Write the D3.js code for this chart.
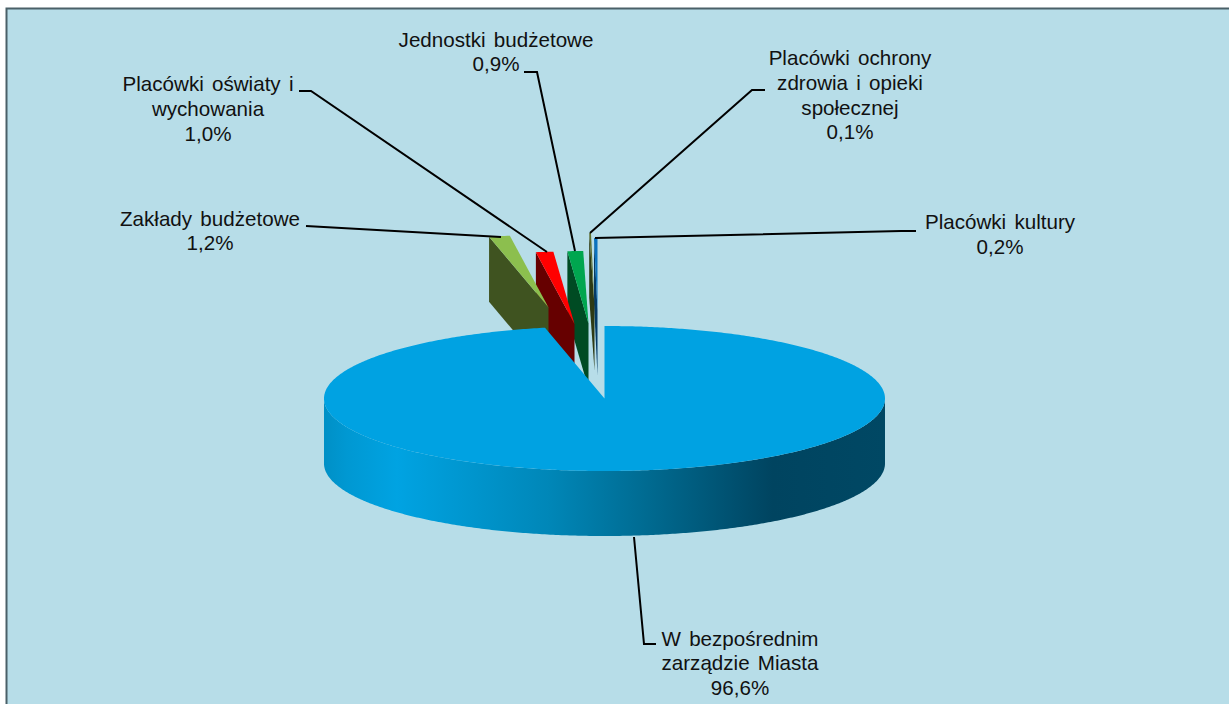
<!DOCTYPE html>
<html><head><meta charset="utf-8">
<script src="https://cdn.jsdelivr.net/npm/d3@7/dist/d3.min.js"></script>
<style>html,body{margin:0;padding:0;background:#fff}svg{display:block}text{font-family:"Liberation Sans",Arial,sans-serif;font-size:20.6px;word-spacing:2.5px;fill:#111}</style>
</head><body><svg id="c" width="1229" height="704"></svg>
<script>
const categories=["W bezpośrednim zarządzie Miasta","Zakłady budżetowe","Placówki oświaty i wychowania","Jednostki budżetowe","Placówki ochrony zdrowia i opieki społecznej","Placówki kultury"];
const values=[96.6,1.2,1.0,0.9,0.1,0.2];
const labelLines=[["W bezpośrednim","zarządzie Miasta"],["Zakłady budżetowe"],["Placówki oświaty i","wychowania"],["Jednostki budżetowe"],["Placówki ochrony","zdrowia i opieki","społecznej"],["Placówki kultury"]];
const topColors=["#00A2E2","#8CBF4E","#FF0000","#00A64F","#5F6E2C","#0B72BE"];
const faceColors=["#00A2E2","#3F5320","#660000","#004B23","#2E3A14","#053A66"];
// layout constants
const W=1229,H=704,cx=604.5,cy=398.5,rx=280.5,ry=72.5,depth=65;
const explode=[[0,0],[-56,-91],[-30,-74.5],[-16,-75],[-10,-93],[-7,-88]];
const labelAnchors=[[740,645.5],[210,225.5],[208,91],[496,46.5],[850,65],[1000,229]];
const leaders=[[[656,644],[644,644],[634,537]],[[306,226],[501,237]],[[299,91],[311,91],[547,252]],[[524,72],[537,72],[575,251]],[[765,90],[752,90],[590,233]],[[916,231],[901,231],[595,238]]];

const svg=d3.select("#c");
const defs=svg.append("defs");
const g=defs.append("linearGradient").attr("id","wall").attr("gradientUnits","userSpaceOnUse").attr("x1",cx-rx).attr("x2",cx+rx).attr("y1",0).attr("y2",0);
[[0,"#0090C6"],[0.04,"#0098D2"],[0.13,"#00A3E2"],[0.40,"#0087B8"],[0.58,"#006A90"],[0.80,"#004460"],[1,"#004864"]].forEach(s=>g.append("stop").attr("offset",s[0]).attr("stop-color",s[1]));

svg.append("rect").attr("x",6.5).attr("y",8.5).attr("width",W).attr("height",H).attr("fill","#B7DDE8").attr("stroke","#4A6068").attr("stroke-width",2);

const pie=d3.pie().sort(null).value(d=>d);
const arcs=pie(values);
const pt=(a,dx=0,dy=0,dz=0)=>[cx+dx+rx*Math.sin(a),cy+dy-ry*Math.cos(a)+dz];
const line=d3.line();
const sweep=(a0,a1,dx,dy,dz=0)=>{const n=Math.max(2,Math.ceil(Math.abs(a1-a0)/0.01));return d3.range(n+1).map(i=>pt(a0+(a1-a0)*i/n,dx,dy,dz));};

// exploded slices, back to front
const order=[5,4,3,2,1];
order.forEach(i=>{
  const a=arcs[i],[dx,dy]=explode[i];
  const ax=cx+dx,ay=cy+dy;
  const o=pt(a.startAngle,dx,dy);
  svg.append("path").attr("d",line([o,[ax,ay],[ax,ay+depth],[o[0],o[1]+depth]])+"Z").attr("fill",faceColors[i]);
  svg.append("path").attr("d",line([[ax,ay],...sweep(a.startAngle,a.endAngle,dx,dy)])+"Z").attr("fill",topColors[i]);
});

// main slice wall then top
svg.append("path").attr("d",line([...sweep(Math.PI/2,3*Math.PI/2,0,0),...sweep(3*Math.PI/2,Math.PI/2,0,0,depth)])+"Z").attr("fill","url(#wall)");
svg.append("path").attr("d",line([[cx,cy],...sweep(arcs[0].startAngle,arcs[0].endAngle,0,0)])+"Z").attr("fill",topColors[0]);

// leaders
leaders.forEach(l=>svg.append("path").attr("d",line(l)).attr("fill","none").attr("stroke","#000").attr("stroke-width",2));

// labels
const fmt=v=>v.toFixed(1).replace(".",",")+"%";
categories.forEach((c,i)=>{
  const t=svg.append("text").attr("text-anchor","middle");
  [...labelLines[i],fmt(values[i])].forEach((s,k)=>t.append("tspan").attr("x",labelAnchors[i][0]).attr("y",labelAnchors[i][1]+k*24.8).text(s));
});
</script></body></html>
